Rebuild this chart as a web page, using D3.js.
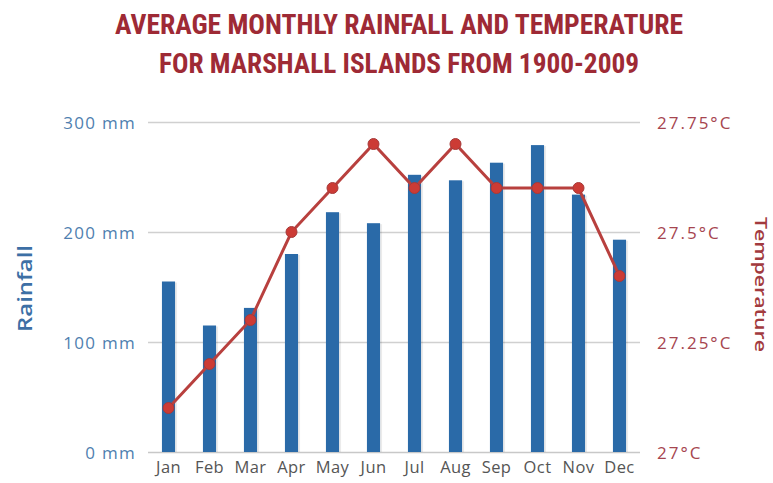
<!DOCTYPE html>
<html><head><meta charset="utf-8">
<script src="https://cdn.jsdelivr.net/npm/d3@7"></script>
<style>body{margin:0;background:#fff}svg{display:block}</style>
</head><body>
<svg id="c" width="773" height="483"></svg>
<script>
const months = ["Jan","Feb","Mar","Apr","May","Jun","Jul","Aug","Sep","Oct","Nov","Dec"];
const rainfall = [155,115,131,180,218,208,252,247,263,279,234,193];
const temperature = [27.1,27.2,27.3,27.5,27.6,27.7,27.6,27.7,27.6,27.6,27.6,27.4];
const rainTicks = [0,100,200,300];
const tempTicks = [27,27.25,27.5,27.75];
const titleLines = ["AVERAGE MONTHLY RAINFALL AND TEMPERATURE","FOR MARSHALL ISLANDS FROM 1900-2009"];
const titleWidths = [568, 480];

const svg = d3.select("#c");
const L = 148, R = 640, T = 122, B = 452;

const x = d3.scaleBand().domain(months).range([L, R]).paddingInner(0.68).paddingOuter(0.34);
const yR = d3.scaleLinear().domain([0,300]).range([B,T]);
const yT = d3.scaleLinear().domain([27,27.75]).range([B,T]);

// title
svg.append("g").selectAll("text").data(titleLines).join("text")
  .attr("x", 399).attr("y", (d,i)=>34+i*39)
  .attr("text-anchor","middle")
  .attr("font-family","'Liberation Sans Narrow','Roboto Condensed','Arial Narrow',sans-serif")
  .attr("font-weight","bold").attr("font-size",28)
  .attr("textLength",(d,i)=>titleWidths[i]).attr("lengthAdjust","spacingAndGlyphs")
  .attr("fill","#9e2a35")
  .text(d=>d);

// gridlines
svg.append("g").selectAll("line").data(rainTicks).join("line")
  .attr("x1",L).attr("x2",R).attr("y1",d=>yR(d)+0.5).attr("y2",d=>yR(d)+0.5)
  .attr("stroke",(d)=>d===0?"#c8c8c8":"#d0d0d0").attr("stroke-width",1.5);

// left axis
const la = svg.append("g").attr("transform",`translate(${L-12},0)`)
  .call(d3.axisLeft(yR).tickValues(rainTicks).tickSize(0).tickPadding(0).tickFormat(d=>d+" mm"));
la.select(".domain").remove();
la.selectAll("text").attr("font-family","'Open Sans',sans-serif").attr("font-size",17)
  .attr("letter-spacing","1.3px").attr("fill","#4f7fb0").attr("dy","0.36em");

// right axis
const ra = svg.append("g").attr("transform",`translate(${R+17},0)`)
  .call(d3.axisRight(yT).tickValues(tempTicks).tickSize(0).tickPadding(0).tickFormat(d=>d+"°C"));
ra.select(".domain").remove();
ra.selectAll("text").attr("font-family","'Open Sans',sans-serif").attr("font-size",17)
  .attr("letter-spacing","2px").attr("fill","#a6454f").attr("dy","0.36em");

// bottom axis
const ba = svg.append("g").attr("transform",`translate(0,${B})`)
  .call(d3.axisBottom(x).tickSize(0).tickPadding(9));
ba.select(".domain").remove();
ba.selectAll("text").attr("font-family","'Open Sans',sans-serif").attr("font-size",16.5)
  .attr("letter-spacing","0.4px").attr("fill","#555");

// axis titles
svg.append("text").attr("transform","translate(32,288.5) rotate(-90)")
  .attr("text-anchor","middle").attr("font-family","'Open Sans',sans-serif")
  .attr("font-size",19).attr("font-weight",600)
  .attr("textLength",87).attr("lengthAdjust","spacingAndGlyphs")
  .attr("fill","#3d6fa5").text("Rainfall");
svg.append("text").attr("transform","translate(755,284.5) rotate(90)")
  .attr("text-anchor","middle").attr("font-family","'Open Sans',sans-serif")
  .attr("font-size",17).attr("font-weight",600)
  .attr("textLength",135).attr("lengthAdjust","spacingAndGlyphs")
  .attr("fill","#a23a3e").text("Temperature");

// bar shadows
svg.append("g").selectAll("rect").data(rainfall).join("rect")
  .attr("x",(d,i)=>x(months[i])+2).attr("y",d=>yR(d)+1)
  .attr("width",x.bandwidth()).attr("height",d=>B-yR(d)-1)
  .attr("fill","#000").attr("opacity",0.08);
// bars
svg.append("g").selectAll("rect").data(rainfall).join("rect")
  .attr("x",(d,i)=>x(months[i])).attr("y",d=>yR(d))
  .attr("width",x.bandwidth()).attr("height",d=>B-yR(d))
  .attr("fill","#2a6aa8");

// line
const cx = i => x(months[i]) + x.bandwidth()/2;
svg.append("path").datum(temperature)
  .attr("d", d3.line().x((d,i)=>cx(i)).y(d=>yT(d)))
  .attr("fill","none").attr("stroke","#b8403e").attr("stroke-width",3);
svg.append("g").selectAll("circle").data(temperature).join("circle")
  .attr("cx",(d,i)=>cx(i)).attr("cy",d=>yT(d)).attr("r",5.5)
  .attr("fill","#cc3b35").attr("stroke","#a63a3a").attr("stroke-width",1);
</script>
</body></html>
